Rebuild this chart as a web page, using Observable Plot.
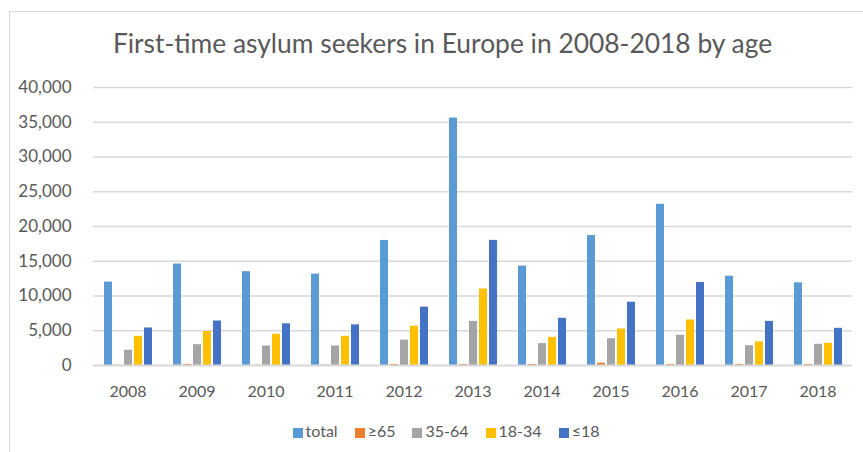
<!DOCTYPE html>
<html>
<head>
<meta charset="utf-8">
<script src="https://cdn.jsdelivr.net/npm/d3@7"></script>
<script src="https://cdn.jsdelivr.net/npm/@observablehq/plot@0.6"></script>
<style>
  html, body { margin: 0; padding: 0; background: #fff; }
  #wrap { position: relative; width: 863px; height: 452px; overflow: hidden; background: #fff; font-family: Lato, sans-serif; }
  #frame { position: absolute; left: 9px; top: 11px; width: 900px; height: 500px; border: 1px solid #d9d9d9; box-sizing: border-box; }
  #title { position: absolute; left: 0; top: 30px; width: 885px; text-align: center; font-size: 26.4px; line-height: 26px; color: #595959; white-space: nowrap; }
  #chart { position: absolute; left: 0; top: 0; }
  #chart svg g[aria-label^="y-axis"] text { font-size: 17px; }
  #legend { position: absolute; left: 0; top: 423px; width: 892px; display: flex; justify-content: center; font-size: 16px; line-height: 16px; color: #595959; }
  .item { display: flex; align-items: flex-end; margin: 0 8.5px; }
  .sw { width: 10px; height: 10px; margin-right: 3px; margin-bottom: 1px; }
</style>
</head>
<body>
<div id="wrap">
  <div id="frame"></div>
  <div id="title">First-time asylum seekers in Europe in 2008-2018 by age</div>
  <div id="chart"></div>
  <div id="legend"></div>
</div>
<script>
const years = ["2008","2009","2010","2011","2012","2013","2014","2015","2016","2017","2018"];
const series = ["total","≥65","35-64","18-34","≤18"];
const colors = ["#5B9BD5","#ED7D31","#A5A5A5","#FFC000","#4472C4"];
const total    = [12000,14600,13500,13150,18000,35600,14300,18700,23200,12850,11900];
const over65   = [40,150,60,60,150,150,150,330,150,150,150];
const age35_64 = [2200,3000,2800,2800,3650,6350,3150,3850,4350,2850,3050];
const age18_34 = [4200,4900,4500,4200,5650,11000,4050,5250,6550,3400,3200];
const under18  = [5400,6400,6000,5850,8400,18000,6800,9100,11950,6350,5350];
const yTicks = [0,5000,10000,15000,20000,25000,30000,35000,40000];

const valuesBySeries = [total, over65, age35_64, age18_34, under18];
const rows = [];
years.forEach((year, i) => {
  series.forEach((s, j) => rows.push({year, series: s, value: valuesBySeries[j][i]}));
});

const chart = Plot.plot({
  width: 863,
  height: 400,
  marginTop: 87,
  marginLeft: 91,
  marginRight: 9,
  marginBottom: 35,
  style: {fontFamily: "Lato, sans-serif", fontSize: "16px", color: "#595959", background: "transparent", overflow: "visible"},
  facet: {data: rows, x: "year"},
  fx: {domain: years, padding: 0, label: null, tickSize: 0, tickPadding: 20, axis: "bottom"},
  x: {domain: series, paddingInner: 0.22, paddingOuter: 0.87, axis: null},
  y: {domain: [0, 40000], ticks: yTicks, tickFormat: d3.format(","), tickSize: 0, tickPadding: 22, label: null},
  color: {domain: series, range: colors},
  marks: [
    Plot.ruleY(yTicks.slice(1), {stroke: "#d9d9d9", strokeWidth: 1.3}),
    Plot.barY(rows, {x: "series", y: "value", fill: "series"}),
    Plot.ruleY([0], {stroke: "#d9d9d9", strokeWidth: 2})
  ]
});
document.getElementById("chart").appendChild(chart);

const legend = document.getElementById("legend");
series.forEach((s, j) => {
  const item = document.createElement("div");
  item.className = "item";
  const sw = document.createElement("div");
  sw.className = "sw";
  sw.style.background = colors[j];
  const t = document.createElement("span");
  t.textContent = s;
  item.appendChild(sw);
  item.appendChild(t);
  legend.appendChild(item);
});
</script>
</body>
</html>
